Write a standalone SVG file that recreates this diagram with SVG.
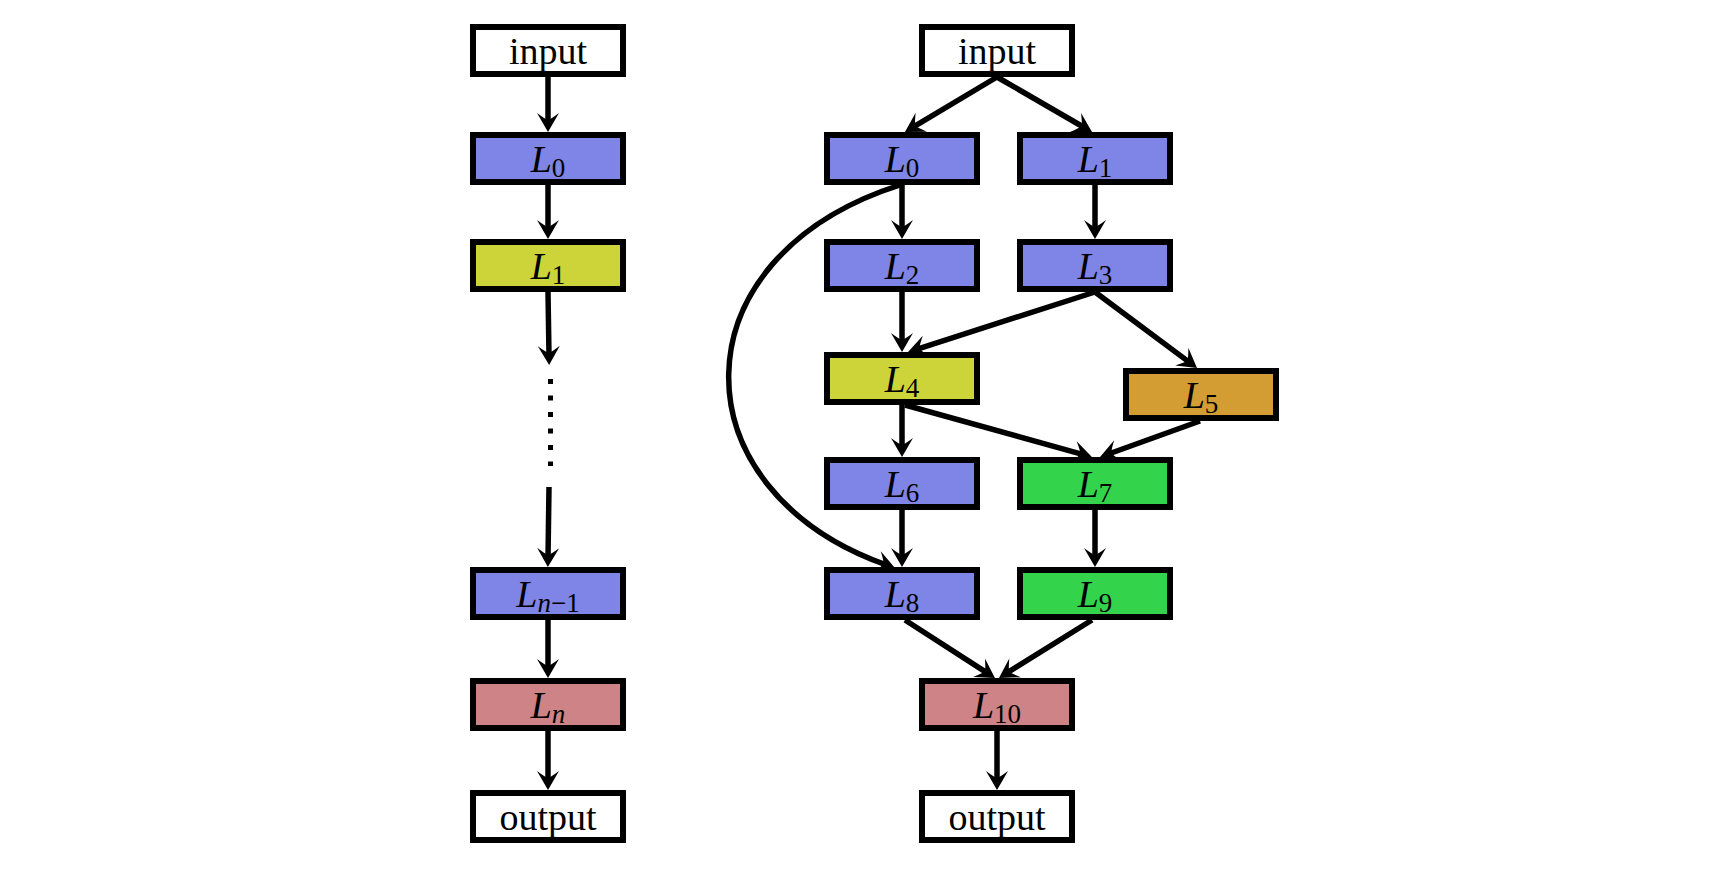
<svg xmlns="http://www.w3.org/2000/svg" width="1710" height="876" viewBox="0 0 1710 876">
<style>
.box{stroke:#000;stroke-width:6}
.w{fill:#fff}.b{fill:#7f85e6}.y{fill:#ccd43a}.o{fill:#d39d33}.g{fill:#33d44b}.p{fill:#ce8386}
text{font-family:"Liberation Serif","DejaVu Serif",serif;font-size:38px;text-anchor:middle;fill:#000}
.it{font-style:italic}
.sub{font-size:27px}
.c{stroke:#000;stroke-width:5.5;fill:none;marker-end:url(#ah)}
</style>
<defs>
<marker id="ah" markerUnits="userSpaceOnUse" viewBox="-20 -12 32 24" markerWidth="32" markerHeight="24" refX="0" refY="0" orient="auto">
<path d="M9,0 L-10,-11 Q-4,-3 -3,0 Q-4,3 -10,11 Z" fill="#000"/>
</marker>
</defs>
<rect width="1710" height="876" fill="#fff"/>
<g id="connectors">
<line class="c" x1="548" y1="77" x2="548" y2="123"/>
<line class="c" x1="548" y1="185" x2="548" y2="230"/>
<line class="c" x1="548" y1="292" x2="549" y2="356"/>
<line x1="550.5" y1="379" x2="550.5" y2="466" stroke="#000" stroke-width="5" stroke-dasharray="5 11.5"/>
<line class="c" x1="549" y1="487" x2="548" y2="558"/>
<line class="c" x1="548" y1="620" x2="548" y2="669"/>
<line class="c" x1="548" y1="731" x2="548" y2="781"/>
<line class="c" x1="997" y1="77" x2="912.7" y2="127.4"/>
<line class="c" x1="997" y1="77" x2="1084.2" y2="127.5"/>
<line class="c" x1="902" y1="185" x2="902" y2="230"/>
<line class="c" x1="1095" y1="185" x2="1095" y2="230"/>
<line class="c" x1="902" y1="292" x2="902" y2="343"/>
<line class="c" x1="1095" y1="292" x2="916.6" y2="349.3"/>
<line class="c" x1="1095" y1="292" x2="1189.8" y2="362.6"/>
<line class="c" x1="902" y1="405" x2="902" y2="448"/>
<line class="c" x1="905" y1="405" x2="1083.3" y2="454.6"/>
<line class="c" x1="1200" y1="421" x2="1108.5" y2="454"/>
<line class="c" x1="902" y1="510" x2="902" y2="558"/>
<line class="c" x1="1095" y1="510" x2="1095" y2="558"/>
<line class="c" x1="905" y1="620" x2="987.4" y2="673.1"/>
<line class="c" x1="1092" y1="620" x2="1006.6" y2="673.2"/>
<line class="c" x1="997" y1="731" x2="997" y2="781"/>
<path class="c" d="M900,185 C672.7,257.5 675,490 886.5,565"/>
</g>
<g id="left-input"><rect class="box w" x="473" y="27" width="150" height="47"/><text x="548" y="63.5">input</text></g>
<g id="left-L0"><rect class="box b" x="473" y="135" width="150" height="47"/><text x="548" y="171.5"><tspan class="it">L</tspan><tspan class="sub" dy="5">0</tspan></text></g>
<g id="left-L1"><rect class="box y" x="473" y="242" width="150" height="47"/><text x="548" y="278.5"><tspan class="it">L</tspan><tspan class="sub" dy="5">1</tspan></text></g>
<g id="left-Ln-1"><rect class="box b" x="473" y="570" width="150" height="47"/><text x="548" y="606.5"><tspan class="it">L</tspan><tspan class="sub" dy="5"><tspan class="it">n</tspan>−1</tspan></text></g>
<g id="left-Ln"><rect class="box p" x="473" y="681" width="150" height="47"/><text x="548" y="717.5"><tspan class="it">L</tspan><tspan class="sub it" dy="5">n</tspan></text></g>
<g id="left-output"><rect class="box w" x="473" y="793" width="150" height="47"/><text x="548" y="829.5">output</text></g>

<g id="right-input"><rect class="box w" x="922" y="27" width="150" height="47"/><text x="997" y="63.5">input</text></g>
<g id="right-L0"><rect class="box b" x="827" y="135" width="150" height="47"/><text x="902" y="171.5"><tspan class="it">L</tspan><tspan class="sub" dy="5">0</tspan></text></g>
<g id="right-L1"><rect class="box b" x="1020" y="135" width="150" height="47"/><text x="1095" y="171.5"><tspan class="it">L</tspan><tspan class="sub" dy="5">1</tspan></text></g>
<g id="right-L2"><rect class="box b" x="827" y="242" width="150" height="47"/><text x="902" y="278.5"><tspan class="it">L</tspan><tspan class="sub" dy="5">2</tspan></text></g>
<g id="right-L3"><rect class="box b" x="1020" y="242" width="150" height="47"/><text x="1095" y="278.5"><tspan class="it">L</tspan><tspan class="sub" dy="5">3</tspan></text></g>
<g id="right-L4"><rect class="box y" x="827" y="355" width="150" height="47"/><text x="902" y="391.5"><tspan class="it">L</tspan><tspan class="sub" dy="5">4</tspan></text></g>
<g id="right-L5"><rect class="box o" x="1126" y="371" width="150" height="47"/><text x="1201" y="407.5"><tspan class="it">L</tspan><tspan class="sub" dy="5">5</tspan></text></g>
<g id="right-L6"><rect class="box b" x="827" y="460" width="150" height="47"/><text x="902" y="496.5"><tspan class="it">L</tspan><tspan class="sub" dy="5">6</tspan></text></g>
<g id="right-L7"><rect class="box g" x="1020" y="460" width="150" height="47"/><text x="1095" y="496.5"><tspan class="it">L</tspan><tspan class="sub" dy="5">7</tspan></text></g>
<g id="right-L8"><rect class="box b" x="827" y="570" width="150" height="47"/><text x="902" y="606.5"><tspan class="it">L</tspan><tspan class="sub" dy="5">8</tspan></text></g>
<g id="right-L9"><rect class="box g" x="1020" y="570" width="150" height="47"/><text x="1095" y="606.5"><tspan class="it">L</tspan><tspan class="sub" dy="5">9</tspan></text></g>
<g id="right-L10"><rect class="box p" x="922" y="681" width="150" height="47"/><text x="997" y="717.5"><tspan class="it">L</tspan><tspan class="sub" dy="5">10</tspan></text></g>
<g id="right-output"><rect class="box w" x="922" y="793" width="150" height="47"/><text x="997" y="829.5">output</text></g>
</svg>
